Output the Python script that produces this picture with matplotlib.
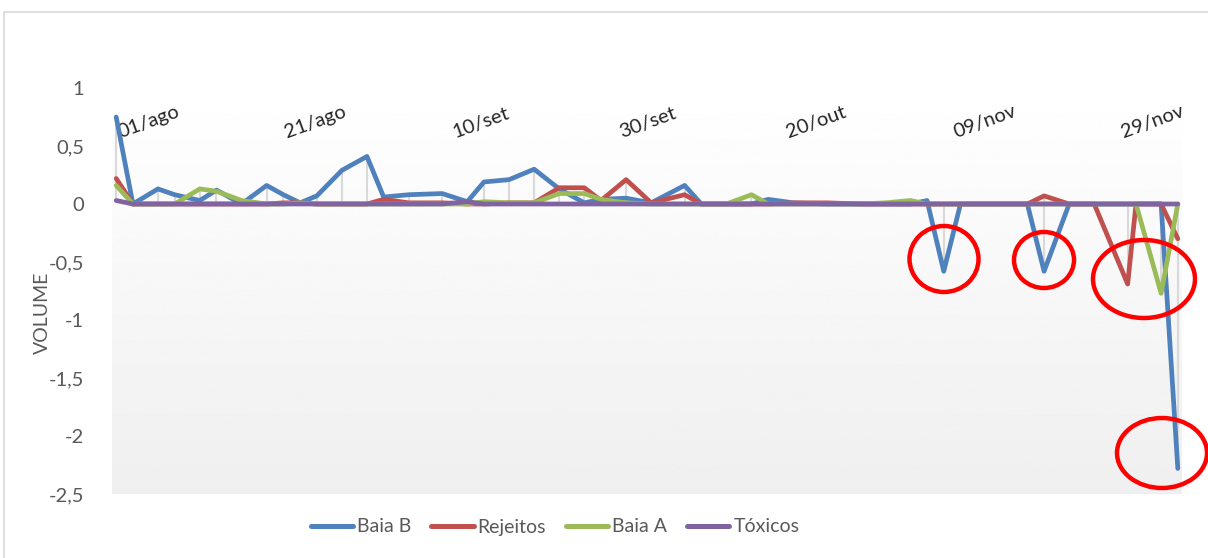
import numpy as np
import pandas as pd
import matplotlib
matplotlib.use("Agg")
import matplotlib.pyplot as plt
from matplotlib.patches import Ellipse, Rectangle
from matplotlib.ticker import FuncFormatter
from matplotlib.transforms import ScaledTranslation

plt.rcParams['font.family'] = ['Lato', 'DejaVu Sans']

# dates of each reading
datas = ['2018-08-01', '2018-08-03', '2018-08-06', '2018-08-08', '2018-08-11', '2018-08-13',
         '2018-08-16', '2018-08-19', '2018-08-21', '2018-08-23', '2018-08-25', '2018-08-28',
         '2018-08-31', '2018-09-02', '2018-09-05', '2018-09-09', '2018-09-12', '2018-09-14',
         '2018-09-17', '2018-09-20', '2018-09-23', '2018-09-26', '2018-09-28', '2018-10-01',
         '2018-10-04', '2018-10-08', '2018-10-10', '2018-10-13', '2018-10-16', '2018-10-18',
         '2018-10-21', '2018-10-25', '2018-10-29', '2018-11-01', '2018-11-04', '2018-11-06',
         '2018-11-08', '2018-11-10', '2018-11-14', '2018-11-18', '2018-11-20', '2018-11-23',
         '2018-11-26', '2018-11-30', '2018-12-01', '2018-12-04', '2018-12-06']

baia_b = [0.75, 0, 0.13, 0.08, 0.03, 0.12, 0, 0.16, 0.08, 0.01, 0.07, 0.29,
          0.41, 0.06, 0.08, 0.09, 0.02, 0.19, 0.21, 0.30, 0.13, 0.01, 0.04, 0.05,
          0.01, 0.16, 0, 0, 0, 0.04, 0.01, 0, 0, 0, 0, 0.03,
          -0.58, 0, 0, 0, -0.58, 0, 0, 0, 0, 0, -2.28]
rejeitos = [0.22, 0, 0, 0, 0, 0, 0, 0, 0.01, 0.01, 0, 0,
            0, 0.04, 0.01, 0.01, 0, 0, 0.01, 0.01, 0.14, 0.14, 0.03, 0.21,
            0.01, 0.08, 0, 0, 0, 0, 0.01, 0.01, 0, 0, 0, 0,
            0, 0, 0, 0, 0.07, 0, 0, -0.69, 0, 0, -0.30]
baia_a = [0.16, 0, 0, 0, 0.13, 0.11, 0.03, 0, 0, 0.01, 0, 0,
          0, 0, 0, 0, 0, 0.02, 0.01, 0.01, 0.09, 0.09, 0.04, 0.01,
          0, 0, 0, 0, 0.08, 0, 0, 0, 0, 0.01, 0.03, 0,
          0, 0, 0, 0, 0, 0, 0, 0, 0, -0.77, 0]
toxicos = [0.03, 0, 0, 0, 0, 0, 0, 0, 0, 0, 0, 0,
           0, 0, 0, 0, 0.02, 0, 0, 0, 0, 0, 0, 0,
           0, 0, 0, 0, 0, 0, 0, 0, 0, 0, 0, 0,
           0, 0, 0, 0, 0, 0, 0, 0, 0, 0, 0]

meses = ['jan', 'fev', 'mar', 'abr', 'mai', 'jun', 'jul', 'ago', 'set', 'out', 'nov', 'dez']
yticks = [1, 0.5, 0, -0.5, -1, -1.5, -2, -2.5]

df = pd.DataFrame({'Baia B': baia_b, 'Rejeitos': rejeitos,
                   'Baia A': baia_a, 'Tóxicos': toxicos},
                  index=pd.to_datetime(datas))
cores = {'Baia B': '#4F81BD', 'Rejeitos': '#C0504D', 'Baia A': '#9BBB59', 'Tóxicos': '#8064A2'}

W, H = 1208, 558
fig = plt.figure(figsize=(W / 100, H / 100), dpi=100)
pos = [112 / W, 1 - 494 / H, (1182 - 112) / W, (494 - 88) / H]

# gradient background of the plot area
bg = fig.add_axes(pos, zorder=0)
grad = np.linspace(1.0, 0.937, 256).reshape(-1, 1)
bg.imshow(grad, aspect='auto', cmap='gray', vmin=0, vmax=1, extent=[0, 1, 0, 1])
bg.axis('off')

ax = fig.add_axes(pos, zorder=1)
ax.patch.set_alpha(0)

x = df.index
# high-low lines
ax.vlines(x, df.min(axis=1), df.max(axis=1), color='#d9d9d9', lw=1.5, zorder=1)
for col in df.columns:
    ax.plot(x, df[col], color=cores[col], lw=3.4, label=col,
            solid_capstyle='round', solid_joinstyle='round', zorder=2)

inicio = x[0]
ax.set_xlim(inicio - pd.Timedelta(hours=12), x[-1] + pd.Timedelta(hours=12))
ax.set_ylim(-2.5, 1)

ticks = [inicio + pd.Timedelta(days=d) for d in range(0, 121, 20)]
ax.xaxis.tick_top()
ax.set_xticks(ticks)
ax.set_xticklabels(['%02d/%s' % (t.day, meses[t.month - 1]) for t in ticks],
                   rotation=20, ha='left', va='bottom', fontsize=14.5, color='#262626',
                   rotation_mode='anchor')
ax.tick_params(axis='x', length=0, pad=-38)
desloc = ScaledTranslation(5 / 100, 0, fig.dpi_scale_trans)
for lab in ax.get_xticklabels():
    lab.set_transform(lab.get_transform() + desloc)

ax.set_yticks(yticks)
ax.yaxis.set_major_formatter(FuncFormatter(lambda v, p: ('%g' % v).replace('.', ',')))
ax.tick_params(axis='y', length=0, pad=20, labelsize=14.5, labelcolor='#595959')
for s in ax.spines.values():
    s.set_visible(False)

fig.text(42 / W, 1 - 313 / H, 'VOLUME', rotation=90, ha='center', va='center',
         fontsize=14, color='#595959')

leg = fig.legend(loc='center', bbox_to_anchor=(555 / W, 1 - 527 / H), ncol=4,
                 frameon=False, fontsize=14, handlelength=2.2, handletextpad=0.2,
                 columnspacing=1.0)
for t in leg.get_texts():
    t.set_color('#595959')
for h in leg.get_lines():
    h.set_linewidth(3.6)

# chart border
fig.add_artist(Rectangle((4 / W, -0.1), 1.1, 1.1 - 12 / H, transform=fig.transFigure,
                         fill=False, ec='#d9d9d9', lw=1.2))

# red circles drawn over the chart
circulos = [(944, 259, 69, 66), (1044, 260, 60, 56), (1144, 279, 102, 78), (1162, 453, 90, 70)]
for cx, cy, w, h in circulos:
    fig.add_artist(Ellipse((cx / W, 1 - cy / H), w / W, h / H, transform=fig.transFigure,
                           fill=False, ec='#ff0000', lw=3.2, zorder=5))

fig.savefig('out.png', dpi=100)
